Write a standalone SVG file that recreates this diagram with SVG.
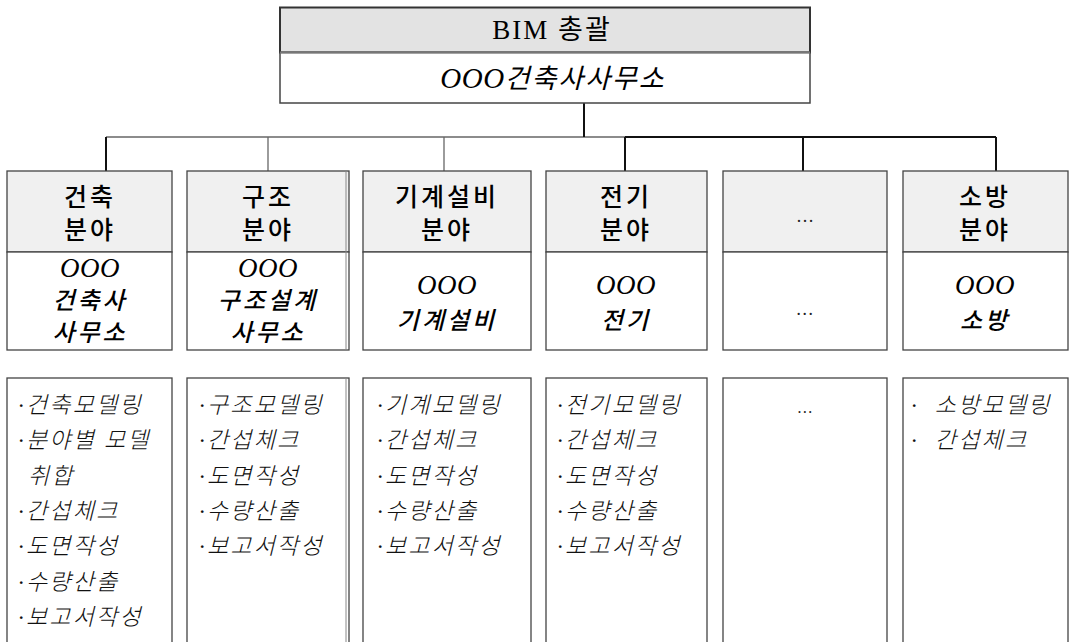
<svg xmlns="http://www.w3.org/2000/svg" width="1072" height="642" viewBox="0 0 1072 642">
<style>
.hdr{font-family:"Liberation Serif","Noto Sans CJK KR",serif;font-size:25px;font-weight:500;letter-spacing:3px;fill:#000;text-anchor:middle}
.sub{font-family:"Liberation Serif","Noto Sans CJK KR",serif;font-size:24px;font-weight:500;font-style:italic;letter-spacing:3px;fill:#000;text-anchor:middle}
.oo{font-family:"Liberation Serif",serif;font-size:27px;font-style:italic;letter-spacing:0.5px;fill:#000;text-anchor:middle}
.lst{font-family:"Liberation Serif","Noto Sans CJK KR",serif;font-size:23px;font-weight:300;font-style:italic;letter-spacing:2.2px;fill:#111}
.ell{font-family:"Liberation Serif",serif;font-size:18px;fill:#222;text-anchor:middle}
.hb{fill:#f0f0f0;stroke:#444;stroke-width:1.3}
.bb{fill:#fff;stroke:#444;stroke-width:1.3}
.cg{stroke:#666;stroke-width:1.3;fill:none}
.ck{stroke:#111;stroke-width:2;fill:none}
</style>
<g id="connectors">
<line class="cg" x1="106" y1="137" x2="625" y2="137"/>
<line class="ck" x1="625" y1="137" x2="996" y2="137"/>
<line class="ck" x1="584" y1="103" x2="584" y2="137"/>
<line class="ck" x1="106" y1="137" x2="106" y2="171"/>
<line class="cg" x1="268" y1="137" x2="268" y2="171"/>
<line class="cg" x1="444" y1="137" x2="444" y2="171"/>
<line class="ck" x1="625" y1="137" x2="625" y2="171"/>
<line class="ck" x1="803" y1="137" x2="803" y2="171"/>
<line class="ck" x1="996" y1="137" x2="996" y2="171"/>
</g>
<g id="top">
<rect x="280" y="7.5" width="530" height="45" fill="#e3e3e3" stroke="#333" stroke-width="2"/>
<rect x="280" y="52.5" width="530" height="50.5" fill="#fff" stroke="#444" stroke-width="1.5"/>
<line x1="280" y1="52.5" x2="810" y2="52.5" stroke="#777" stroke-width="2"/>
<text x="552" y="39" class="hdr" style="font-size:27px;letter-spacing:2px;font-weight:normal">BIM 총괄</text>
<text x="553" y="88" class="sub" style="font-size:27px;letter-spacing:2px;font-weight:normal"><tspan style="font-size:29px;letter-spacing:0.5px">OOO</tspan>건축사사무소</text>
</g>
<g id="col1">
<rect class="hb" x="7" y="171" width="165" height="81"/>
<rect class="bb" x="7" y="252" width="165" height="98"/>
<text class="hdr" x="90" y="206">건축</text>
<text class="hdr" x="90" y="239">분야</text>
<text class="oo" x="90" y="277">OOO</text>
<text class="sub" x="90" y="309">건축사</text>
<text class="sub" x="90" y="341">사무소</text>
</g>
<g id="col2">
<rect class="hb" x="187" y="171" width="162" height="81"/>
<rect class="bb" x="187" y="252" width="162" height="98"/>
<text class="hdr" x="268" y="206">구조</text>
<text class="hdr" x="268" y="239">분야</text>
<text class="oo" x="268" y="277">OOO</text>
<text class="sub" x="268" y="309">구조설계</text>
<text class="sub" x="268" y="341">사무소</text>
</g>
<g id="col3">
<rect class="hb" x="363" y="171" width="168" height="81"/>
<rect class="bb" x="363" y="252" width="168" height="98"/>
<text class="hdr" x="447" y="206">기계설비</text>
<text class="hdr" x="447" y="239">분야</text>
<text class="oo" x="447" y="294">OOO</text>
<text class="sub" x="447" y="329">기계설비</text>
</g>
<g id="col4">
<rect class="hb" x="546" y="171" width="161" height="81"/>
<rect class="bb" x="546" y="252" width="161" height="98"/>
<text class="hdr" x="626" y="206">전기</text>
<text class="hdr" x="626" y="239">분야</text>
<text class="oo" x="626" y="294">OOO</text>
<text class="sub" x="626" y="329">전기</text>
</g>
<g id="col5">
<rect class="hb" x="723" y="171" width="164" height="81"/>
<rect class="bb" x="723" y="252" width="164" height="98"/>
<text class="ell" x="805" y="222">…</text>
<text class="ell" x="805" y="315" style="font-style:italic">…</text>
</g>
<g id="col6">
<rect class="hb" x="903" y="171" width="165" height="81"/>
<rect class="bb" x="903" y="252" width="165" height="98"/>
<text class="hdr" x="985" y="206">소방</text>
<text class="hdr" x="985" y="239">분야</text>
<text class="oo" x="985" y="294">OOO</text>
<text class="sub" x="985" y="329">소방</text>
</g>
<g id="list1">
<rect class="bb" x="7" y="378" width="165" height="280"/>
<text class="lst" x="18" y="413">·건축모델링</text>
<text class="lst" x="18" y="448">·분야별 모델</text>
<text class="lst" x="28" y="484">취합</text>
<text class="lst" x="18" y="519">·간섭체크</text>
<text class="lst" x="18" y="554">·도면작성</text>
<text class="lst" x="18" y="590">·수량산출</text>
<text class="lst" x="18" y="625">·보고서작성</text>
</g>
<g id="list2">
<rect class="bb" x="187" y="378" width="162" height="280"/>
<line x1="346" y1="171" x2="346" y2="350" stroke="#888" stroke-width="1"/>
<line x1="346" y1="378" x2="346" y2="642" stroke="#888" stroke-width="1"/>
<text class="lst" x="199" y="413">·구조모델링</text>
<text class="lst" x="199" y="448">·간섭체크</text>
<text class="lst" x="199" y="484">·도면작성</text>
<text class="lst" x="199" y="519">·수량산출</text>
<text class="lst" x="199" y="554">·보고서작성</text>
</g>
<g id="list3">
<rect class="bb" x="363" y="378" width="168" height="280"/>
<text class="lst" x="377" y="413">·기계모델링</text>
<text class="lst" x="377" y="448">·간섭체크</text>
<text class="lst" x="377" y="484">·도면작성</text>
<text class="lst" x="377" y="519">·수량산출</text>
<text class="lst" x="377" y="554">·보고서작성</text>
</g>
<g id="list4">
<rect class="bb" x="546" y="378" width="161" height="280"/>
<text class="lst" x="557" y="413">·전기모델링</text>
<text class="lst" x="557" y="448">·간섭체크</text>
<text class="lst" x="557" y="484">·도면작성</text>
<text class="lst" x="557" y="519">·수량산출</text>
<text class="lst" x="557" y="554">·보고서작성</text>
</g>
<g id="list5">
<rect class="bb" x="723" y="378" width="164" height="280"/>
<text class="ell" x="805" y="413" style="font-size:16px;font-style:italic">…</text>
</g>
<g id="list6">
<rect class="bb" x="903" y="378" width="165" height="280"/>
<text class="lst" x="911" y="413" xml:space="preserve">·  소방모델링</text>
<text class="lst" x="911" y="448" xml:space="preserve">·  간섭체크</text>
</g>
</svg>
